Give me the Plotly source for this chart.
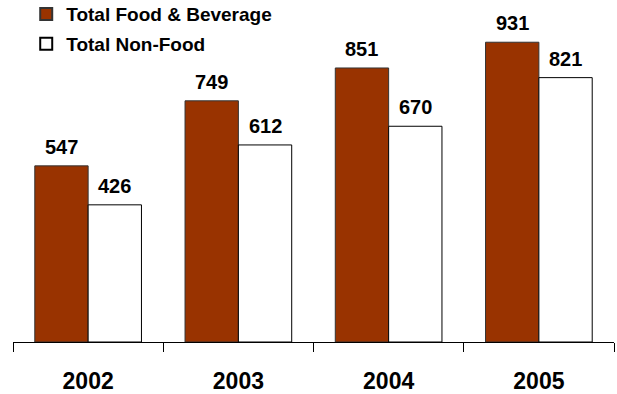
import plotly.graph_objects as go

years = ["2002", "2003", "2004", "2005"]
food_bev = [547, 749, 851, 931]
non_food = [426, 612, 670, 821]
series_names = ["Total Food & Beverage", "Total Non-Food"]

FONT = "Arial, Liberation Sans, sans-serif"

fig = go.Figure()
fig.add_trace(go.Bar(x=years, y=food_bev, name=series_names[0], legendgroup="a",
                     marker=dict(color="#993300", line=dict(color="#333333", width=1))))
fig.add_trace(go.Bar(x=years, y=non_food, name=series_names[1], legendgroup="b",
                     marker=dict(color="#ffffff", line=dict(color="#000000", width=1))))

for vals, off in ((food_bev, -0.1775), (non_food, 0.1775)):
    for i, v in enumerate(vals):
        fig.add_annotation(x=i + off, y=v, text=f"<b>{v}</b>", showarrow=False,
                           yanchor="bottom", yshift=6, xref="x", yref="y",
                           font=dict(family=FONT, size=20, color="black"))

fig.update_layout(
    width=617, height=394,
    margin=dict(l=13, r=3, t=20, b=52, autoexpand=False),
    plot_bgcolor="white", paper_bgcolor="white",
    barmode="group", bargap=0.29, bargroupgap=0,
    showlegend=True,
    legend=dict(x=0.022, y=1.077, xanchor="left", yanchor="top",
                font=dict(family=FONT, size=19, color="black", weight="bold"),
                bgcolor="rgba(0,0,0,0)", tracegroupgap=2, itemsizing="constant",
                itemwidth=30),
    xaxis=dict(type="category", tickson="boundaries", ticks="outside", ticklen=9,
               tickcolor="black", showline=True, linecolor="black", linewidth=1,
               showgrid=False, automargin=False, ticklabelstandoff=18,
               tickfont=dict(family=FONT, size=23, color="black", weight="bold")),
    yaxis=dict(range=[0, 1000], visible=False, showgrid=False),
)

fig.write_html("out.html")
